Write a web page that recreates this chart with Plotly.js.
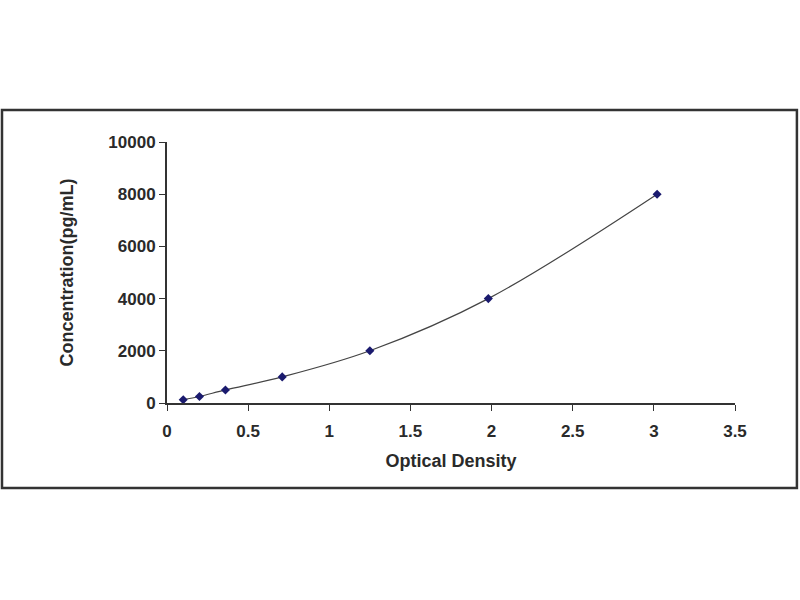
<!DOCTYPE html>
<html>
<head>
<meta charset="utf-8">
<script src="https://cdn.plot.ly/plotly-3.0.1.min.js"></script>
<style>
  html, body { margin: 0; padding: 0; background: #fff; }
  #chart { width: 800px; height: 600px; }
</style>
</head>
<body>
<div id="chart"></div>
<script>
// standard curve
let od = [0.1, 0.2, 0.36, 0.71, 1.25, 1.98, 3.02];
let conc = [125, 250, 500, 1000, 2000, 4000, 8000];

let xTicks = [0, 0.5, 1, 1.5, 2, 2.5, 3, 3.5];
let yTicks = [0, 2000, 4000, 6000, 8000, 10000];

let tickFont = { family: "Liberation Sans, Arial", size: 17, color: "#2a2a2a" };
let titleFont = { family: "Liberation Sans, Arial", size: 18, color: "#2a2a2a" };

let trace_curve = {
    x: od,
    y: conc,
    mode: "lines+markers",
    type: "scatter",
    line: { shape: "spline", color: "#444", width: 1.2 },
    marker: { symbol: "diamond", size: 7, color: "#1a1a6e" },
    hoverinfo: "x+y"
};

let layout = {
    width: 800,
    height: 600,
    showlegend: false,
    paper_bgcolor: "#fff",
    plot_bgcolor: "#fff",
    margin: { l: 167, r: 65, t: 142, b: 197 },
    xaxis: {
        range: [0, 3.5],
        tickvals: xTicks,
        ticktext: xTicks.map(v => "<b>" + v + "</b>"),
        ticks: "outside",
        ticklen: 6,
        tickcolor: "#333",
        ticklabelstandoff: 6,
        showline: true,
        linecolor: "#333",
        linewidth: 2,
        showgrid: false,
        zeroline: false,
        tickfont: tickFont,
        title: { text: "<b>Optical Density</b>", font: titleFont, standoff: 14 }
    },
    yaxis: {
        range: [0, 10000],
        tickvals: yTicks,
        ticktext: yTicks.map(v => "<b>" + v + "</b>"),
        ticks: "outside",
        ticklen: 6,
        tickcolor: "#333",
        showline: true,
        linecolor: "#333",
        linewidth: 2,
        showgrid: false,
        zeroline: false,
        tickfont: tickFont,
        title: { text: "<b>Concentration(pg/mL)</b>", font: titleFont, standoff: 30 }
    },
    shapes: [{
        type: "rect",
        xref: "paper", yref: "paper",
        x0: -0.2905, x1: 1.109,
        y0: -0.3257, y1: 1.1226,
        line: { color: "#333", width: 2.5 }
    }]
};

Plotly.newPlot("chart", [trace_curve], layout, { displayModeBar: false, staticPlot: true });
</script>
</body>
</html>
